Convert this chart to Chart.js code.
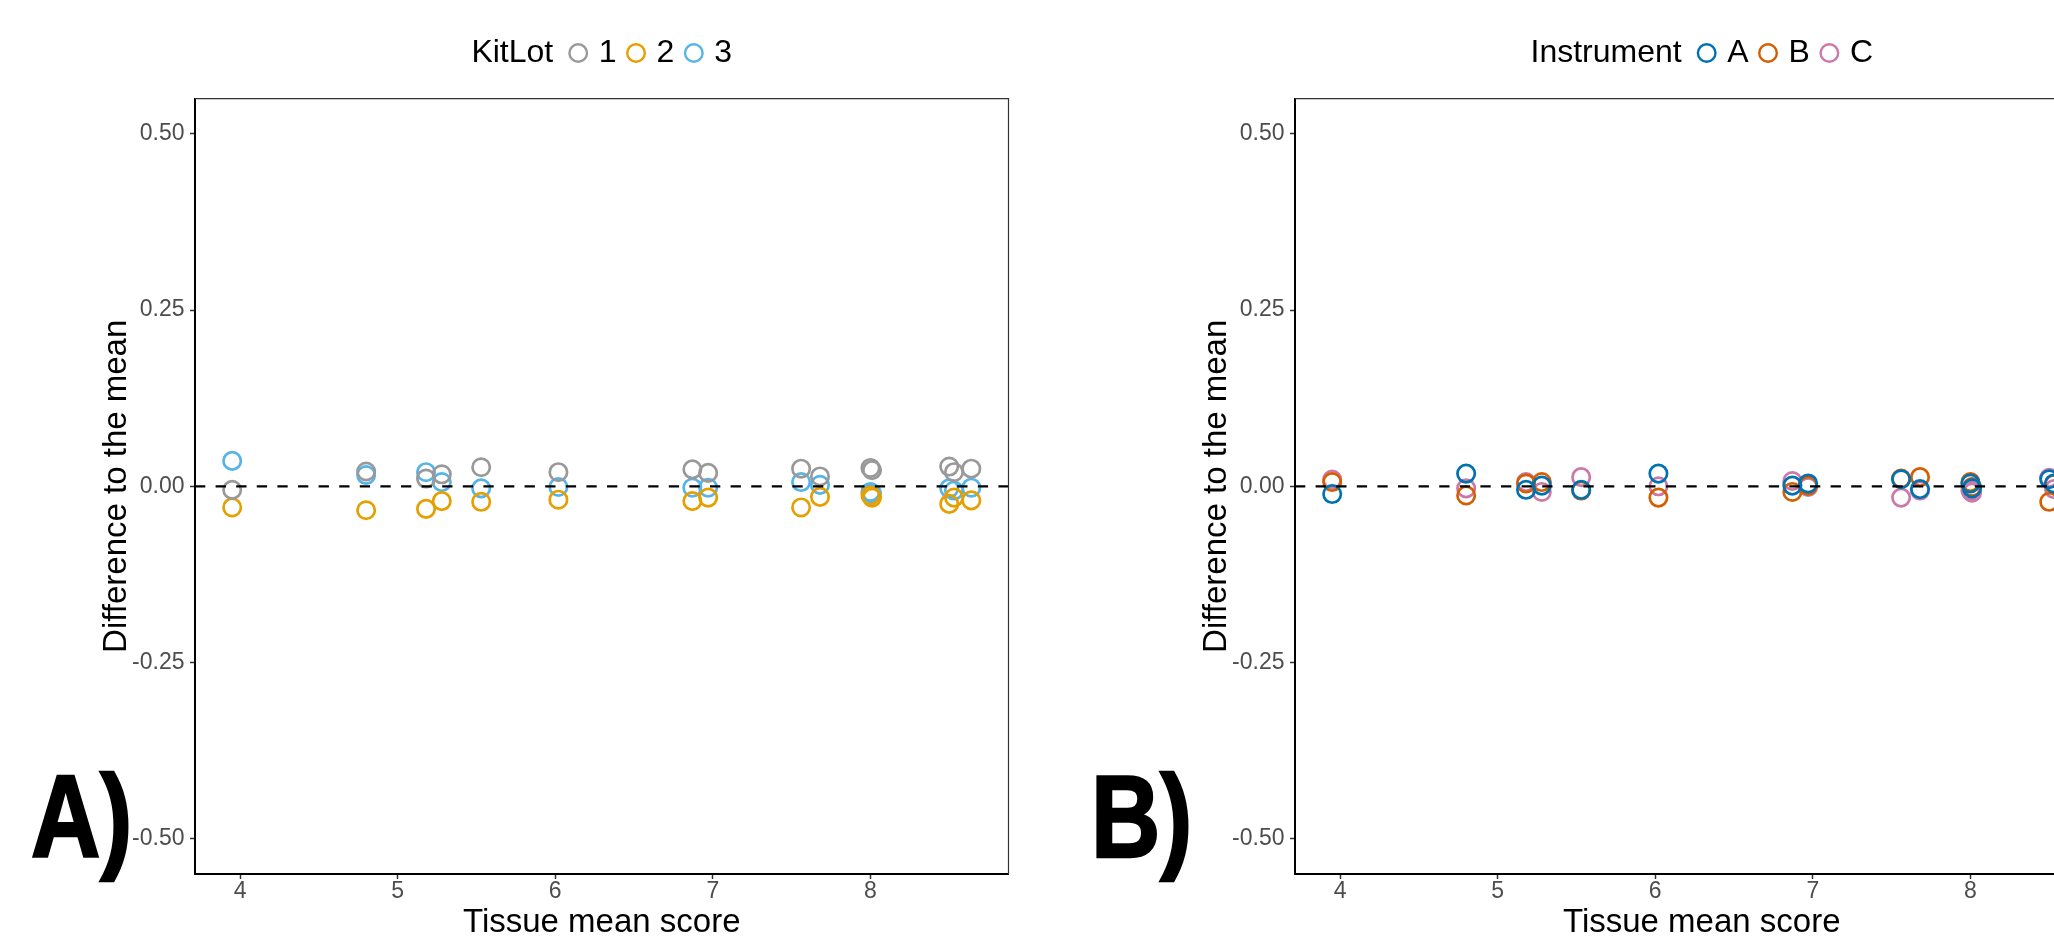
<!DOCTYPE html>
<html>
<head>
<meta charset="utf-8">
<script src="https://cdn.jsdelivr.net/npm/chart.js@4.4.1/dist/chart.umd.min.js"></script>
<style>
  html, body { margin: 0; padding: 0; background: #fff; overflow: hidden; }
  #wrap { position: relative; width: 2054px; height: 937px; overflow: hidden; }
  canvas { position: absolute; top: 0; }
  #chartA { left: 0; }
  #chartB { left: 1100px; }
  .tag {
    position: absolute; top: 758px;
    font-family: "Liberation Sans", Arial, sans-serif; font-weight: bold;
    font-size: 117px; line-height: 117px; color: #000; white-space: nowrap;
    -webkit-text-stroke: 2.5px #000;
    transform: scaleX(0.82); transform-origin: 0 0;
  }
</style>
</head>
<body>
<div id="wrap">
  <canvas id="chartA" width="1100" height="937"></canvas>
  <canvas id="chartB" width="1100" height="937"></canvas>
  <div class="tag" style="left:31px;">A)</div>
  <div class="tag" style="left:1091px;">B)</div>
</div>
<script>
// tissue mean score of each sample (x)
const tissueMean = [3.95, 4.80, 5.18, 5.28, 5.53, 6.02, 6.87, 6.97, 7.56, 7.68, 8.00, 8.01, 8.50, 8.53, 8.64];

// panel A: difference to the mean per kit lot
const kitLot1 = [-0.005, 0.021, 0.011, 0.017, 0.027, 0.020, 0.024, 0.019, 0.025, 0.014, 0.026, 0.023, 0.028, 0.020, 0.025];
const kitLot2 = [-0.030, -0.034, -0.032, -0.021, -0.022, -0.019, -0.021, -0.016, -0.030, -0.015, -0.013, -0.016, -0.025, -0.016, -0.020];
const kitLot3 = [0.036, 0.016, 0.020, 0.006, -0.003, -0.001, -0.002, -0.002, 0.006, 0.002, -0.008, -0.010, -0.003, -0.006, -0.002];
const kitLotLabels = ['1', '2', '3'];
const kitLotColors = ['#999999', '#E69F00', '#56B4E9'];

// panel B: difference to the mean per instrument
const instrA = [-0.011, 0.018, -0.005, 0.001, -0.005, 0.018, 0.001, 0.004, 0.010, -0.004, 0.004, -0.003, 0.010, 0.004, 0.001];
const instrB = [0.006, -0.013, 0.004, 0.006, -0.006, -0.016, -0.008, 0.001, 0.011, 0.013, 0.006, -0.001, -0.022, 0.003, -0.003];
const instrC = [0.0095, -0.003, 0.006, -0.008, 0.013, 0.000, 0.0075, -0.001, -0.016, -0.006, -0.006, -0.009, 0.012, -0.004, 0.002];
const instrumentLabels = ['A', 'B', 'C'];
const instrumentColors = ['#0072B2', '#D55E00', '#CC79A7'];

const xTicks = [4, 5, 6, 7, 8];
const yTicks = [-0.50, -0.25, 0, 0.25, 0.50];
const xLimits = [3.714, 8.876];
const yLimits = [-0.55, 0.55];
const refLine = 0;

Chart.defaults.font.family = '"Liberation Sans", Arial, sans-serif';

// dashed reference line, panel frame and the inline ggplot-like legend
const decor = {
  id: 'decor',
  afterDatasetsDraw(chart) {
    const { ctx, chartArea: a, scales } = chart;
    const y0 = scales.y.getPixelForValue(refLine);
    ctx.save();
    ctx.strokeStyle = '#000';
    ctx.lineWidth = 2.3;
    ctx.setLineDash([10.3, 10.3]);
    ctx.beginPath();
    ctx.moveTo(a.left, y0);
    ctx.lineTo(a.right, y0);
    ctx.stroke();
    ctx.setLineDash([]);
    ctx.strokeStyle = '#333';
    ctx.lineWidth = 1.2;
    ctx.beginPath();
    ctx.moveTo(a.left, a.top);
    ctx.lineTo(a.right, a.top);
    ctx.lineTo(a.right, a.bottom);
    ctx.stroke();
    ctx.restore();
  },
  afterDraw(chart, args, opts) {
    const { ctx, chartArea: a } = chart;
    ctx.save();
    ctx.font = '32px "Liberation Sans", Arial, sans-serif';
    ctx.textBaseline = 'alphabetic';
    ctx.fillStyle = '#000';
    const items = chart.data.datasets.map(d => ({ text: d.label, color: d.borderColor, w: ctx.measureText(d.label).width }));
    const titleW = ctx.measureText(opts.title).width;
    let total = titleW + 15;
    items.forEach((it, i) => { total += 20 + 10.5 + it.w + (i < items.length - 1 ? 9.5 : 0); });
    let x = (a.left + a.right) / 2 - total / 2;
    ctx.fillText(opts.title, x, 62);
    x += titleW + 15;
    items.forEach(it => {
      ctx.beginPath();
      ctx.arc(x + 10, 53, 8.8, 0, Math.PI * 2);
      ctx.strokeStyle = it.color;
      ctx.lineWidth = 2.4;
      ctx.stroke();
      x += 20 + 10.5;
      ctx.fillText(it.text, x, 62);
      x += it.w + 9.5;
    });
    ctx.restore();
  }
};

function makePanel(id, legendTitle, labels, colors, series) {
  const datasets = series.map((vals, i) => ({
    label: labels[i],
    data: tissueMean.map((x, j) => ({ x: x, y: vals[j] })),
    borderColor: colors[i],
    backgroundColor: 'rgba(0,0,0,0)',
    pointRadius: 8.7,
    pointBorderWidth: 2.7,
    showLine: false
  }));

  new Chart(document.getElementById(id), {
    type: 'scatter',
    data: { datasets: datasets },
    options: {
      responsive: false,
      animation: false,
      events: [],
      layout: { padding: { left: 0, right: 91.5, top: 98.6, bottom: 0 } },
      plugins: {
        legend: { display: false },
        tooltip: { enabled: false },
        decor: { title: legendTitle }
      },
      scales: {
        x: {
          type: 'linear',
          min: xLimits[0],
          max: xLimits[1],
          afterBuildTicks: s => { s.ticks = xTicks.map(v => ({ value: v })); },
          afterFit: s => { s.height = 63; },
          border: { display: true, color: '#000', width: 2 },
          grid: { display: true, drawOnChartArea: false, drawTicks: true, tickLength: 5, tickColor: '#333', tickWidth: 1.5 },
          ticks: { color: '#4D4D4D', font: { size: 23, lineHeight: 1 }, padding: 1.5, maxRotation: 0, autoSkip: false, callback: v => String(v) },
          title: { display: true, text: 'Tissue mean score', color: '#000', font: { size: 33, lineHeight: 1 }, padding: { top: 0, bottom: -2 } }
        },
        y: {
          type: 'linear',
          min: yLimits[0],
          max: yLimits[1],
          afterBuildTicks: s => { s.ticks = yTicks.map(v => ({ value: v })); },
          afterFit: s => { s.width = 195; },
          border: { display: true, color: '#000', width: 2 },
          grid: { display: true, drawOnChartArea: false, drawTicks: true, tickLength: 5, tickColor: '#333', tickWidth: 1.5 },
          ticks: { color: '#4D4D4D', font: { size: 23, lineHeight: 1 }, padding: 5.5, autoSkip: false, callback: v => v.toFixed(2) },
          title: { display: true, text: 'Difference to the mean', color: '#000', font: { size: 33, lineHeight: 1 }, padding: { top: 100, bottom: 0 } }
        }
      }
    },
    plugins: [decor]
  });
}

makePanel('chartA', 'KitLot', kitLotLabels, kitLotColors, [kitLot1, kitLot2, kitLot3]);
makePanel('chartB', 'Instrument', instrumentLabels, instrumentColors, [instrA, instrB, instrC]);
</script>
</body>
</html>
